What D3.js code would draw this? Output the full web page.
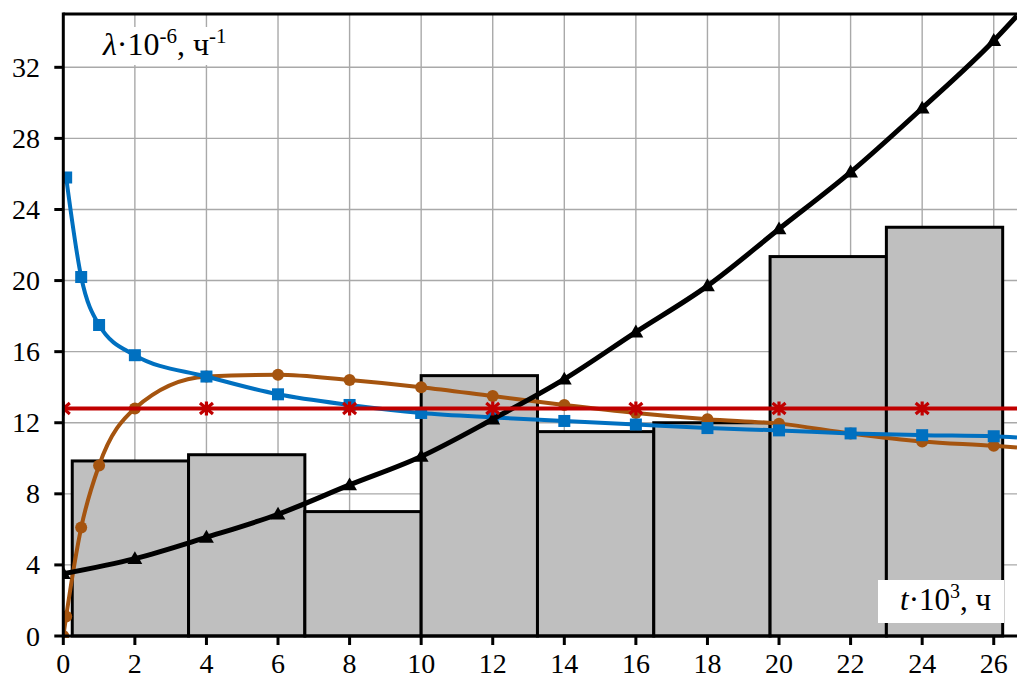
<!DOCTYPE html>
<html>
<head>
<meta charset="utf-8">
<script src="https://cdn.jsdelivr.net/npm/d3@7"></script>
<style>
	body{margin:0;background:#fff;}
</style>
</head>
<body>
<script>
//chart data (t in thousands of hours, lambda in 1e-6 per hour)
var tMax = 26.65; //right edge of the plot area
var lambdaMax = 35;

//histogram: bin edges and heights
var binEdges = [0.25, 3.5, 6.75, 10, 13.25, 16.5, 19.75, 23, 26.25];
var binHeights = [9.85, 10.2, 7.0, 14.65, 11.5, 12.0, 21.35, 23.0];

//blue series (squares)
var blueT = [0.08, 0.5, 1, 2, 4, 6, 8, 10, 12, 14, 16, 18, 20, 22, 24, 26];
var blueL = [25.8, 20.2, 17.5, 15.8, 14.6, 13.6, 13.0, 12.55, 12.3, 12.1, 11.9, 11.7, 11.57, 11.4, 11.3, 11.24];
var blueTail = 11.17;

//brown series (circles)
var brownT = [0, 0.08, 0.5, 1, 2, 4, 6, 8, 10, 12, 14, 16, 18, 20, 22, 24, 26];
var brownL = [0, 1.1, 6.1, 9.6, 12.8, 14.6, 14.7, 14.4, 14.0, 13.5, 13.0, 12.55, 12.2, 11.95, 11.4, 10.95, 10.7];
var brownTail = 10.6;

//black series (triangles)
var blackT = [0, 2, 4, 6, 8, 10, 12, 14, 16, 18, 20, 22, 24, 26];
var blackL = [3.5, 4.35, 5.55, 6.85, 8.5, 10.1, 12.2, 14.45, 17.1, 19.7, 22.9, 26.1, 29.7, 33.5];
var blackTail = 34.9;

//red constant series (stars)
var redT = [0, 4, 8, 12, 16, 20, 24];
var redL = [12.8, 12.8, 12.8, 12.8, 12.8, 12.8, 12.8];
var redTail = 12.8;

//ticks and grid
var xTicks = [0, 2, 4, 6, 8, 10, 12, 14, 16, 18, 20, 22, 24, 26];
var yTicks = [0, 4, 8, 12, 16, 20, 24, 28, 32];

window.onload = function(){

	var w = 1018, h = 680;
	var serif = "'Liberation Serif'";

	var svg = d3.select("body")
		.append("svg")
		.attr("width", w)
		.attr("height", h)
		.attr("class", "container");

	//scales
	var x = d3.scaleLinear().domain([0, tMax]).range([63.3, 1017]);
	var y = d3.scaleLinear().domain([0, lambdaMax]).range([636, 14]);

	svg.append("clipPath")
		.attr("id", "plotClip")
		.append("rect")
		.attr("x", x(0))
		.attr("y", y(lambdaMax) - 2)
		.attr("width", x(tMax) - x(0))
		.attr("height", y(0) - y(lambdaMax) + 4);

	//grid lines
	var grid = svg.append("g").attr("class", "grid");
	grid.selectAll(".vgrid")
		.data(xTicks.filter(function(d){ return d > 0; }))
		.enter()
		.append("line")
		.attr("x1", function(d){ return x(d); })
		.attr("x2", function(d){ return x(d); })
		.attr("y1", y(lambdaMax))
		.attr("y2", y(0))
		.style("stroke", "#a9a9a9")
		.style("stroke-width", 1.4);
	grid.selectAll(".hgrid")
		.data(yTicks.filter(function(d){ return d > 0; }))
		.enter()
		.append("line")
		.attr("x1", x(0))
		.attr("x2", x(tMax))
		.attr("y1", function(d){ return y(d); })
		.attr("y2", function(d){ return y(d); })
		.style("stroke", "#a9a9a9")
		.style("stroke-width", 1.4);

	//histogram bars
	var bins = binHeights.map(function(v, i){
		return {x0: binEdges[i], x1: binEdges[i + 1], v: v};
	});
	svg.append("g")
		.attr("class", "bars")
		.selectAll("rect")
		.data(bins)
		.enter()
		.append("rect")
		.attr("x", function(d){ return x(d.x0); })
		.attr("y", function(d){ return y(d.v); })
		.attr("width", function(d){ return x(d.x1) - x(d.x0); })
		.attr("height", function(d){ return y(0) - y(d.v); })
		.style("fill", "#bfbfbf")
		.style("stroke", "#000")
		.style("stroke-width", 3);

	//axis title boxes
	svg.append("rect")
		.attr("x", 66).attr("y", 27)
		.attr("width", 191).attr("height", 38)
		.style("fill", "#fff");

	svg.append("rect")
		.attr("x", 878).attr("y", 580)
		.attr("width", 126).attr("height", 43)
		.style("fill", "#fff");

	//series lines
	function pts(ts, ls, tail){
		var p = ts.map(function(t, i){ return [t, ls[i]]; });
		return p.concat([[tMax, tail]]);
	}
	var smooth = d3.line()
		.x(function(d){ return x(d[0]); })
		.y(function(d){ return y(d[1]); })
		.curve(d3.curveMonotoneX);
	var straight = d3.line()
		.x(function(d){ return x(d[0]); })
		.y(function(d){ return y(d[1]); });

	var lines = svg.append("g").attr("class", "lines").attr("clip-path", "url(#plotClip)");

	var series = [
		{t: brownT, l: brownL, tail: brownTail, color: "#a5540f", width: 4, gen: smooth, marker: "circle"},
		{t: blueT, l: blueL, tail: blueTail, color: "#0070c0", width: 4, gen: smooth, marker: "square"},
		{t: blackT, l: blackL, tail: blackTail, color: "#000000", width: 5, gen: smooth, marker: "triangle"},
		{t: redT, l: redL, tail: redTail, color: "#c00000", width: 4, gen: straight, marker: "star"}
	];

	series.forEach(function(s){
		lines.append("path")
			.datum(pts(s.t, s.l, s.tail))
			.attr("d", s.gen)
			.style("fill", "none")
			.style("stroke", s.color)
			.style("stroke-width", s.width);

		var marks = s.t.map(function(t, i){ return [t, s.l[i]]; });
		var g = lines.append("g");
		if (s.marker === "circle") {
			g.selectAll("circle").data(marks).enter().append("circle")
				.attr("cx", function(d){ return x(d[0]); })
				.attr("cy", function(d){ return y(d[1]); })
				.attr("r", 6)
				.style("fill", s.color);
		} else if (s.marker === "square") {
			g.selectAll("rect").data(marks).enter().append("rect")
				.attr("x", function(d){ return x(d[0]) - 6; })
				.attr("y", function(d){ return y(d[1]) - 6; })
				.attr("width", 12).attr("height", 12)
				.style("fill", s.color);
		} else if (s.marker === "triangle") {
			g.selectAll("path").data(marks).enter().append("path")
				.attr("transform", function(d){ return "translate(" + x(d[0]) + "," + (y(d[1]) + 1) + ")"; })
				.attr("d", d3.symbol().type(d3.symbolTriangle).size(95))
				.style("fill", s.color);
		} else {
			g.selectAll("path").data(marks).enter().append("path")
				.attr("transform", function(d){ return "translate(" + x(d[0]) + "," + y(d[1]) + ")"; })
				.attr("d", "M-6.5,-5.5L6.5,5.5M-6.5,5.5L6.5,-5.5M0,-7L0,7")
				.style("fill", "none")
				.style("stroke", s.color)
				.style("stroke-width", 3.2);
		}
	});

	//axes frame: left, bottom, top
	var frame = svg.append("g").attr("class", "frame");
	frame.append("line")
		.attr("x1", x(0)).attr("x2", x(0))
		.attr("y1", y(lambdaMax) - 1.5).attr("y2", y(0) + 1.5)
		.style("stroke", "#000").style("stroke-width", 3);
	frame.append("line")
		.attr("x1", x(0)).attr("x2", x(tMax))
		.attr("y1", y(0)).attr("y2", y(0))
		.style("stroke", "#000").style("stroke-width", 3);
	frame.append("line")
		.attr("x1", x(0)).attr("x2", x(tMax))
		.attr("y1", y(lambdaMax)).attr("y2", y(lambdaMax))
		.style("stroke", "#000").style("stroke-width", 3);

	//ticks
	frame.selectAll(".xtick")
		.data(xTicks)
		.enter()
		.append("line")
		.attr("x1", function(d){ return x(d); })
		.attr("x2", function(d){ return x(d); })
		.attr("y1", y(0))
		.attr("y2", y(0) + 9)
		.style("stroke", "#000").style("stroke-width", 3);
	frame.selectAll(".ytick")
		.data(yTicks)
		.enter()
		.append("line")
		.attr("x1", x(0) - 9)
		.attr("x2", x(0))
		.attr("y1", function(d){ return y(d); })
		.attr("y2", function(d){ return y(d); })
		.style("stroke", "#000").style("stroke-width", 3);

	//tick labels
	svg.selectAll(".xlabel")
		.data(xTicks)
		.enter()
		.append("text")
		.attr("class", "xlabel")
		.attr("x", function(d){ return x(d); })
		.attr("y", 673)
		.attr("text-anchor", "middle")
		.style("font-family", serif)
		.style("font-size", "28px")
		.text(function(d){ return d; });
	svg.selectAll(".ylabel")
		.data(yTicks)
		.enter()
		.append("text")
		.attr("class", "ylabel")
		.attr("x", 40)
		.attr("y", function(d){ return y(d) + 9.5; })
		.attr("text-anchor", "end")
		.style("font-family", serif)
		.style("font-size", "28px")
		.text(function(d){ return d; });

	//axis titles
	var yTitle = svg.append("text")
		.attr("x", 103)
		.attr("y", 55)
		.style("font-family", serif)
		.style("font-size", "32px");
	yTitle.append("tspan").style("font-style", "italic").text("λ");
	yTitle.append("tspan").text("·10");
	yTitle.append("tspan").attr("dy", -12).style("font-size", "21px").text("-6");
	yTitle.append("tspan").attr("dy", 12).text(", ч");
	yTitle.append("tspan").attr("dy", -12).style("font-size", "21px").text("-1");

	var xTitle = svg.append("text")
		.attr("x", 900)
		.attr("y", 610)
		.style("font-family", serif)
		.style("font-size", "31px");
	xTitle.append("tspan").style("font-style", "italic").text("t");
	xTitle.append("tspan").text("·10");
	xTitle.append("tspan").attr("dy", -12).style("font-size", "20px").text("3");
	xTitle.append("tspan").attr("dy", 12).text(", ч");
};
</script>
</body>
</html>
